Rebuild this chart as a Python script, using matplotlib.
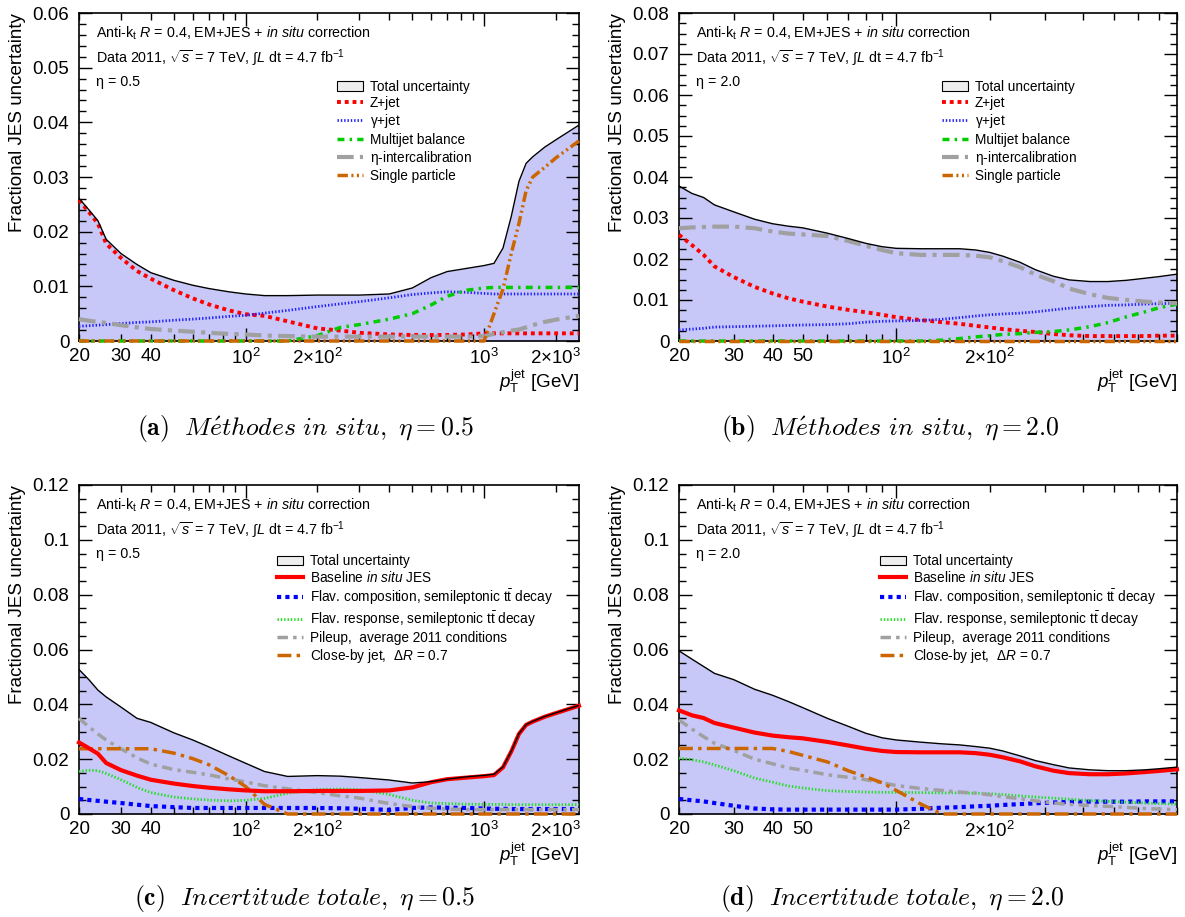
import numpy as np
import matplotlib
matplotlib.use("Agg")
import matplotlib.pyplot as plt
from matplotlib.patches import Patch
from matplotlib.ticker import FixedLocator, LogLocator, FuncFormatter, MultipleLocator

plt.rcParams['font.family'] = ['Liberation Sans', 'DejaVu Sans']
plt.rcParams['mathtext.fontset'] = 'custom'
plt.rcParams['mathtext.rm'] = 'Liberation Sans'
plt.rcParams['mathtext.it'] = 'Liberation Sans:italic'
plt.rcParams['mathtext.bf'] = 'Liberation Sans:bold'

W, H = 1185, 917

# pT points (GeV)
pt_eta05 = [20, 22, 24, 26, 30, 35, 40, 50, 60, 70, 85, 100, 120, 150, 200, 250,
            300, 400, 500, 600, 700, 850, 1000, 1100, 1200, 1300, 1400, 1500, 1600,
            1800, 2000, 2500]
pt_eta20 = [20, 22, 24, 26, 30, 35, 40, 45, 50, 60, 70, 80, 90, 100, 120, 140, 160,
            180, 200, 220, 250, 280, 320, 360, 420, 480, 550, 630, 700, 800]

# (a) in situ methods, eta = 0.5
total_a = [0.0261, 0.0240, 0.0220, 0.0186, 0.0160, 0.0140, 0.0125, 0.0111, 0.0102, 0.0096,
           0.0090, 0.0086, 0.0083, 0.0083, 0.0084, 0.0084, 0.0084, 0.0086, 0.0097, 0.0116,
           0.0127, 0.0133, 0.0138, 0.0142, 0.0170, 0.0228, 0.0292, 0.0325, 0.0337, 0.0355,
           0.0368, 0.0395]
zjet_a = [0.0258, 0.0236, 0.0215, 0.0178, 0.0152, 0.0128, 0.0114, 0.0093, 0.0078, 0.0067,
          0.0056, 0.0049, 0.0046, 0.0036, 0.0023, 0.0019, 0.0015, 0.0012, 0.0011, 0.0011,
          0.0011, 0.0012, 0.0014, 0.0014, 0.0014, 0.0014, 0.0014, 0.0014, 0.0014, 0.0014,
          0.0014, 0.0014]
gjet_a = [0.0027, 0.0028, 0.0029, 0.0030, 0.0032, 0.0034, 0.0035, 0.0038, 0.0040, 0.0042,
          0.0045, 0.0047, 0.0051, 0.0056, 0.0063, 0.0068, 0.0072, 0.0079, 0.0085, 0.0088,
          0.0090, 0.0089, 0.0087, 0.0086, 0.0086, 0.0086, 0.0086, 0.0086, 0.0086, 0.0086,
          0.0086, 0.0086]
multijet_a = [0, 0, 0, 0, 0, 0, 0, 0, 0, 0, 0, 0, 0, 0, 0.0010, 0.0025, 0.0030, 0.0040,
              0.0050, 0.0066, 0.0082, 0.0093, 0.0097, 0.0098, 0.0098, 0.0098, 0.0098, 0.0098,
              0.0098, 0.0098, 0.0098, 0.0098]
etaic_a = [0.0040, 0.0037, 0.0035, 0.0033, 0.0029, 0.0025, 0.0022, 0.0019, 0.0017, 0.0015,
           0.0013, 0.0012, 0.0010, 0.0009, 0.0008, 0.0008, 0.0008, 0.0008, 0.0008, 0.0008,
           0.0008, 0.0008, 0.0009, 0.0013, 0.0016, 0.0019, 0.0021, 0.0025, 0.0029, 0.0035,
           0.0039, 0.0046]
single_a = [0, 0, 0, 0, 0, 0, 0, 0, 0, 0, 0, 0, 0, 0, 0, 0, 0, 0, 0, 0, 0, 0, 0,
            0.0050, 0.0095, 0.0160, 0.0215, 0.0275, 0.0300, 0.0318, 0.0335, 0.0366]

# (b) in situ methods, eta = 2.0
total_b = [0.0378, 0.0360, 0.0350, 0.0332, 0.0315, 0.0297, 0.0286, 0.0280, 0.0276, 0.0263,
           0.0250, 0.0238, 0.0230, 0.0226, 0.0225, 0.0225, 0.0225, 0.0222, 0.0216, 0.0207,
           0.0192, 0.0174, 0.0158, 0.0149, 0.0145, 0.0145, 0.0148, 0.0153, 0.0157, 0.0163]
zjet_b = [0.0259, 0.0234, 0.0210, 0.0182, 0.0156, 0.0132, 0.0116, 0.0104, 0.0096, 0.0084,
          0.0076, 0.0070, 0.0064, 0.0058, 0.0051, 0.0046, 0.0042, 0.0037, 0.0033, 0.0029,
          0.0025, 0.0022, 0.0017, 0.0014, 0.0012, 0.0012, 0.0012, 0.0012, 0.0013, 0.0013]
gjet_b = [0.0027, 0.0029, 0.0031, 0.0034, 0.0035, 0.0036, 0.0037, 0.0038, 0.0039, 0.0040,
          0.0042, 0.0046, 0.0048, 0.0049, 0.0050, 0.0053, 0.0057, 0.0061, 0.0064, 0.0066,
          0.0068, 0.0071, 0.0076, 0.0080, 0.0084, 0.0087, 0.0088, 0.0090, 0.0091, 0.0092]
multijet_b = [0, 0, 0, 0, 0, 0, 0, 0, 0, 0, 0, 0, 0, 0, 0, 0.0002, 0.0006, 0.0010, 0.0013,
              0.0016, 0.0018, 0.0021, 0.0023, 0.0027, 0.0035, 0.0045, 0.0059, 0.0071, 0.0081,
              0.0090]
etaic_b = [0.0275, 0.0277, 0.0278, 0.0279, 0.0279, 0.0275, 0.0267, 0.0262, 0.0260, 0.0256,
           0.0244, 0.0232, 0.0222, 0.0214, 0.0210, 0.0210, 0.0210, 0.0208, 0.0204, 0.0195,
           0.0180, 0.0162, 0.0146, 0.0128, 0.0114, 0.0105, 0.0100, 0.0096, 0.0094, 0.0092]
single_b = [0] * 30

# (c) total uncertainty, eta = 0.5 (baseline = total of (a))
total_c = [0.0527, 0.0490, 0.0452, 0.0427, 0.0390, 0.0349, 0.0334, 0.0296, 0.0270, 0.0245,
           0.0212, 0.0185, 0.0155, 0.0137, 0.0140, 0.0138, 0.0133, 0.0124, 0.0113, 0.0118,
           0.0127, 0.0136, 0.0141, 0.0145, 0.0172, 0.0229, 0.0293, 0.0326, 0.0338, 0.0356,
           0.0369, 0.0396]
flavcomp_c = [0.0055, 0.0051, 0.0048, 0.0045, 0.0040, 0.0034, 0.0029, 0.0025, 0.0022, 0.0022,
              0.0022, 0.0022, 0.0022, 0.0022, 0.0022, 0.0021, 0.0019, 0.0015, 0.0022, 0.0024,
              0.0023, 0.0022, 0.0020, 0.0019, 0.0019, 0.0018, 0.0018, 0.0018, 0.0018, 0.0018,
              0.0018, 0.0018]
flavresp_c = [0.0155, 0.0160, 0.0158, 0.0148, 0.0125, 0.0097, 0.0078, 0.0062, 0.0055, 0.0051,
              0.0048, 0.0050, 0.0057, 0.0076, 0.0089, 0.0091, 0.0089, 0.0071, 0.0050, 0.0040,
              0.0038, 0.0036, 0.0035, 0.0035, 0.0035, 0.0034, 0.0034, 0.0034, 0.0034, 0.0034,
              0.0034, 0.0034]
pileup_c = [0.0349, 0.0318, 0.0292, 0.0270, 0.0238, 0.0205, 0.0182, 0.0162, 0.0152, 0.0143,
            0.0128, 0.0117, 0.0103, 0.0092, 0.0078, 0.0066, 0.0058, 0.0038, 0.0027, 0.0021,
            0.0018, 0.0016, 0.0016, 0.0016, 0.0016, 0.0016, 0.0016, 0.0016, 0.0016, 0.0016,
            0.0016, 0.0016]
closeby_c = [0.0238, 0.0238, 0.0238, 0.0238, 0.0238, 0.0238, 0.0238, 0.0222, 0.0202, 0.0180,
             0.0140, 0.0100, 0.0035, 0, 0, 0, 0, 0, 0, 0, 0, 0, 0, 0, 0, 0, 0, 0, 0, 0, 0, 0]

# (d) total uncertainty, eta = 2.0 (baseline = total of (b))
total_d = [0.0595, 0.0565, 0.0538, 0.0513, 0.0490, 0.0455, 0.0433, 0.0410, 0.0388, 0.0349,
           0.0320, 0.0294, 0.0278, 0.0270, 0.0262, 0.0256, 0.0252, 0.0246, 0.0240, 0.0230,
           0.0212, 0.0195, 0.0180, 0.0168, 0.0161, 0.0158, 0.0158, 0.0161, 0.0165, 0.0171]
flavcomp_d = [0.0055, 0.0050, 0.0046, 0.0040, 0.0030, 0.0020, 0.0017, 0.0016, 0.0016, 0.0016,
              0.0016, 0.0016, 0.0016, 0.0016, 0.0019, 0.0023, 0.0025, 0.0028, 0.0030, 0.0033,
              0.0036, 0.0039, 0.0042, 0.0044, 0.0045, 0.0045, 0.0045, 0.0046, 0.0046, 0.0046]
flavresp_d = [0.0204, 0.0198, 0.0190, 0.0179, 0.0158, 0.0131, 0.0116, 0.0102, 0.0095, 0.0085,
              0.0082, 0.0080, 0.0079, 0.0079, 0.0078, 0.0077, 0.0077, 0.0076, 0.0074, 0.0071,
              0.0066, 0.0062, 0.0058, 0.0054, 0.0049, 0.0046, 0.0043, 0.0040, 0.0038, 0.0036]
pileup_d = [0.0343, 0.0310, 0.0282, 0.0258, 0.0232, 0.0200, 0.0183, 0.0168, 0.0160, 0.0143,
            0.0134, 0.0125, 0.0114, 0.0104, 0.0093, 0.0086, 0.0080, 0.0076, 0.0070, 0.0063,
            0.0056, 0.0048, 0.0040, 0.0035, 0.0031, 0.0028, 0.0024, 0.0020, 0.0018, 0.0016]
closeby_d = [0.0239, 0.0239, 0.0239, 0.0239, 0.0239, 0.0239, 0.0239, 0.0228, 0.0214, 0.0190,
             0.0158, 0.0135, 0.0114, 0.0086, 0.0036, 0, 0, 0, 0, 0, 0, 0, 0, 0, 0, 0, 0, 0,
             0, 0]

tick_labels_eta05 = {20: '20', 30: '30', 40: '40', 100: r'$10^{2}$', 200: r'$2{\times}10^{2}$',
                     1000: r'$10^{3}$', 2000: r'$2{\times}10^{3}$'}
tick_labels_eta20 = {20: '20', 30: '30', 40: '40', 50: '50', 100: r'$10^{2}$',
                     200: r'$2{\times}10^{2}$'}

FILL = '#c8c8f8'
ORANGE = '#cc6600'
GRAY = '#a0a0a0'
TXT = 10.3   # header text size
LEG = 9.8    # legend text size

ATLAS_1 = r"Anti-k$_{\mathrm{t}}$ $R$ = 0.4, EM+JES + $in\ situ$ correction"
ATLAS_2 = r"Data 2011, $\sqrt{s}$ = 7 TeV, $\int L$ dt = 4.7 fb$^{-1}$"


def make_axes(fig, left, top, width, height):
    return fig.add_axes([left / W, 1 - (top + height) / H, width / W, height / H])


def style_axes(ax, xmax, ymax, ymajor, yminor, xlabels):
    ax.set_xscale('log')
    ax.set_xlim(20, xmax)
    ax.set_ylim(0, ymax)
    ax.xaxis.set_major_locator(FixedLocator([100, 1000]))
    ax.xaxis.set_minor_locator(LogLocator(base=10, subs=np.arange(2, 10)))
    fmt = FuncFormatter(lambda v, pos: xlabels.get(int(round(v)), ''))
    ax.xaxis.set_major_formatter(fmt)
    ax.xaxis.set_minor_formatter(fmt)
    ax.yaxis.set_major_locator(MultipleLocator(ymajor))
    ax.yaxis.set_minor_locator(MultipleLocator(yminor))
    ax.yaxis.set_major_formatter(FuncFormatter(lambda v, pos: f"{v:g}"))
    ax.tick_params(which='both', direction='in', top=True, right=True, labelsize=13.5)
    ax.tick_params(which='major', length=9.5, width=1)
    ax.tick_params(which='minor', length=5, width=1)
    ax.tick_params(axis='x', which='both', pad=5)
    ax.tick_params(axis='y', which='both', pad=7)
    for s in ax.spines.values():
        s.set_linewidth(1.2)


def header(ax, eta_txt):
    ax.text(0.034, 0.939, ATLAS_1, transform=ax.transAxes, fontsize=TXT, va='center')
    ax.text(0.034, 0.863, ATLAS_2, transform=ax.transAxes, fontsize=TXT, va='center')
    ax.text(0.034, 0.790, eta_txt, transform=ax.transAxes, fontsize=TXT, va='center')


def total_band(ax, pt, total):
    ax.fill_between(pt, 0, total, color=FILL, lw=0, zorder=1)
    ax.plot(pt, total, color='black', lw=1.0, zorder=6)
    return Patch(facecolor='#eeeeee', edgecolor='black', lw=0.8)


def insitu_panel(ax, pt, total, zjet, gjet, mj, etaic, sp, eta_txt, leg_x):
    box = total_band(ax, pt, total)
    kw = dict(clip_on=False, dash_capstyle='butt', zorder=4)
    l1, = ax.plot(pt, zjet, color='#ff0000', lw=2.8, ls=(0, (1, 1)), **kw)
    l2, = ax.plot(pt, gjet, color='#2020ff', lw=2.0, ls=(0, (0.5, 0.7)), **kw)
    l3, = ax.plot(pt, mj, color='#00cc00', lw=2.5, ls=(0, (2, 1.5, 0.7, 1.5)), **kw)
    l4, = ax.plot(pt, etaic, color=GRAY, lw=3.0, ls=(0, (4, 1.5, 1, 1.5)), **kw)
    l5, = ax.plot(pt, sp, color=ORANGE, lw=2.5, ls=(0, (3, 1, 0.6, 1, 0.6, 1)), **kw)
    header(ax, eta_txt)
    ax.legend([box, l1, l2, l3, l4, l5],
              ['Total uncertainty', 'Z+jet', r'$\mathrm{\gamma}$+jet', 'Multijet balance',
               r'$\mathrm{\eta}$-intercalibration', 'Single particle'],
              loc='upper left', bbox_to_anchor=(leg_x, 0.797), frameon=False, fontsize=LEG,
              handlelength=1.9, handletextpad=0.5, labelspacing=0.17, borderpad=0,
              borderaxespad=0)


def total_panel(ax, pt, total, base, fcomp, fresp, pile, close, eta_txt, leg_x):
    box = total_band(ax, pt, total)
    kw = dict(clip_on=False, dash_capstyle='butt', zorder=4)
    l1, = ax.plot(pt, base, color='#ff0000', lw=3.0, zorder=5, clip_on=False)
    l2, = ax.plot(pt, fcomp, color='#0000ff', lw=3.0, ls=(0, (1, 1)), **kw)
    l3, = ax.plot(pt, fresp, color='#22dd22', lw=2.0, ls=(0, (0.5, 0.7)), **kw)
    l4, = ax.plot(pt, pile, color=GRAY, lw=2.5, ls=(0, (3, 1.5, 1, 1.5)), **kw)
    l5, = ax.plot(pt, close, color=ORANGE, lw=2.5, ls=(0, (4, 1.5, 1, 1.5)), **kw)
    header(ax, eta_txt)
    ax.legend([box, l1, l2, l3, l4, l5],
              ['Total uncertainty', r'Baseline $in\ situ$ JES',
               r'Flav. composition, semileptonic t$\bar{\mathrm{t}}$ decay',
               r'Flav. response, semileptonic t$\bar{\mathrm{t}}$ decay',
               'Pileup,  average 2011 conditions', r'Close-by jet,  $\Delta R$ = 0.7'],
              loc='upper left', bbox_to_anchor=(leg_x, 0.79), frameon=False, fontsize=LEG,
              handlelength=1.9, handletextpad=0.5, labelspacing=0.15, borderpad=0,
              borderaxespad=0)


fig = plt.figure(figsize=(W / 100, H / 100), dpi=100)

ax_a = make_axes(fig, 79, 13, 500, 328)
ax_b = make_axes(fig, 679, 13, 498, 328)
ax_c = make_axes(fig, 79, 485, 500, 329)
ax_d = make_axes(fig, 679, 485, 498, 329)

style_axes(ax_a, 2500, 0.06, 0.01, 0.002, tick_labels_eta05)
style_axes(ax_b, 800, 0.08, 0.01, 0.0025, tick_labels_eta20)
style_axes(ax_c, 2500, 0.12, 0.02, 0.005, tick_labels_eta05)
style_axes(ax_d, 800, 0.12, 0.02, 0.005, tick_labels_eta20)

insitu_panel(ax_a, pt_eta05, total_a, zjet_a, gjet_a, multijet_a, etaic_a, single_a,
             'η = 0.5', 0.516)
insitu_panel(ax_b, pt_eta20, total_b, zjet_b, gjet_b, multijet_b, etaic_b, single_b,
             'η = 2.0', 0.528)
total_panel(ax_c, pt_eta05, total_c, total_a, flavcomp_c, flavresp_c, pileup_c, closeby_c,
            'η = 0.5', 0.396)
total_panel(ax_d, pt_eta20, total_d, total_b, flavcomp_d, flavresp_d, pileup_d, closeby_d,
            'η = 2.0', 0.404)

# axis titles (ROOT style: y at top, x at right)
for x0, top in [(18, 13), (618, 13), (18, 485), (618, 485)]:
    fig.text(x0 / W, 1 - top / H, 'Fractional JES uncertainty', rotation=90,
             ha='center', va='top', fontsize=13.5)
for xr, base in [(579, 388), (1177, 388), (579, 861), (1177, 861)]:
    fig.text(xr / W, 1 - base / H, r'$p_{\mathrm{T}}^{\mathrm{jet}}$ [GeV]', ha='right',
             va='baseline', fontsize=13.5)

captions = [
    (305, 428, r'$\mathbf{(a)}\ \ \mathit{M\acute{e}thodes\ in\ situ},\ \eta = 0.5$'),
    (890, 428, r'$\mathbf{(b)}\ \ \mathit{M\acute{e}thodes\ in\ situ},\ \eta = 2.0$'),
    (305, 898, r'$\mathbf{(c)}\ \ \mathit{Incertitude\ totale},\ \eta = 0.5$'),
    (892, 898, r'$\mathbf{(d)}\ \ \mathit{Incertitude\ totale},\ \eta = 2.0$'),
]
for cx, cy, txt in captions:
    fig.text(cx / W, 1 - cy / H, txt, ha='center', va='center', fontsize=18.5,
             math_fontfamily='cm')

fig.savefig('out.png', dpi=100)
